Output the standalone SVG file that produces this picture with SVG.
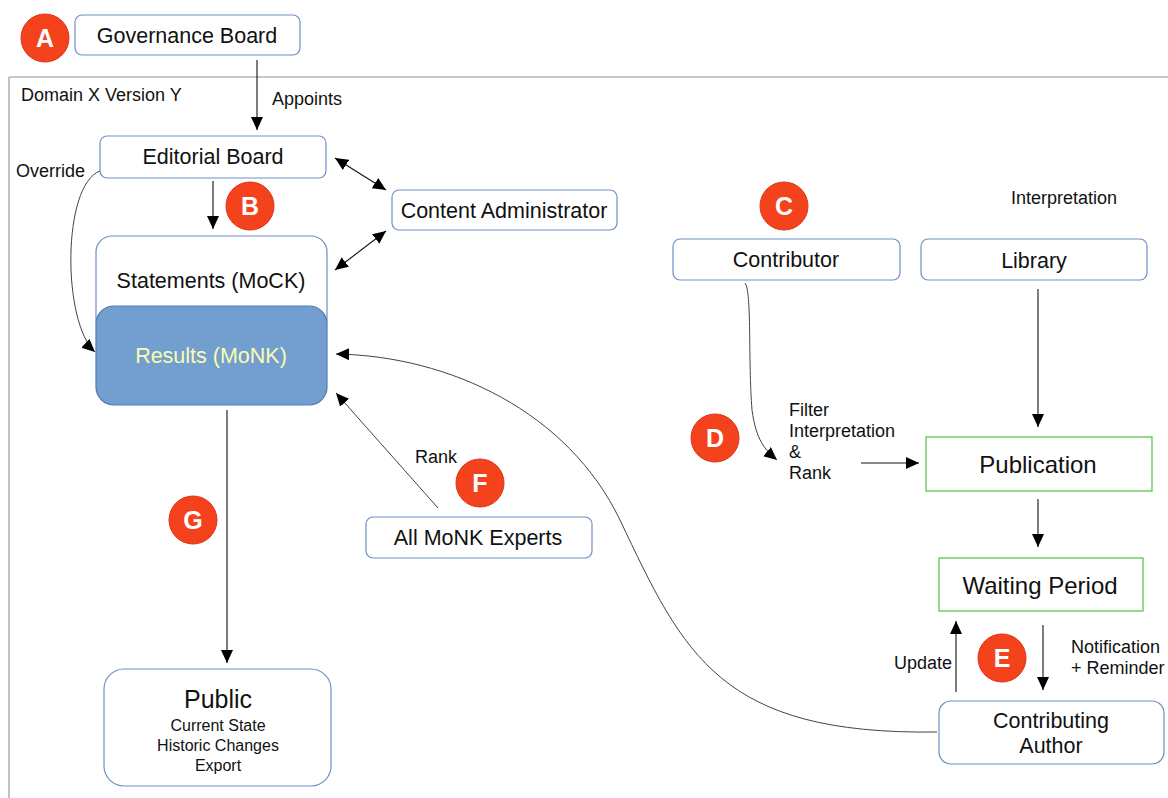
<svg xmlns="http://www.w3.org/2000/svg" width="1168" height="798" viewBox="0 0 1168 798">
<defs>
<style>
.node{fill:#fff;stroke:#6f8fc4;stroke-width:1.2}
.green{fill:#fff;stroke:#5cc452;stroke-width:1.3}
.t{font-family:"Liberation Sans",Arial,sans-serif;fill:#111;text-anchor:middle;font-size:21.5px}
.s{font-family:"Liberation Sans",Arial,sans-serif;fill:#111;font-size:18px}
.badge{fill:#f4431c;stroke:#e0301a;stroke-width:1}
.bl{font-family:"Liberation Sans",Arial,sans-serif;font-weight:bold;fill:#fff;font-size:25px;text-anchor:middle}
.c{fill:none;stroke:#111;stroke-width:1.1}
.cg{fill:none;stroke:#444;stroke-width:1}
</style>
<marker id="ah" markerUnits="userSpaceOnUse" markerWidth="14" markerHeight="12" refX="13" refY="6" orient="auto-start-reverse">
<path d="M0,0 L13,6 L0,12 Z" fill="#000"/>
</marker>
</defs>
<rect width="1168" height="798" fill="#fff"/>
<g id="frame">
<line x1="9" y1="77" x2="1168" y2="77" stroke="#c8c8c8" stroke-width="2"/>
<line x1="9" y1="77" x2="9" y2="798" stroke="#9a9a9a" stroke-width="1.2"/>
<text class="s" x="21" y="101">Domain X Version Y</text>
</g>
<g id="connectors">
<path class="c" d="M257,60 L257,130" marker-end="url(#ah)"/>
<text class="s" x="272" y="105">Appoints</text>
<path class="c" d="M213,181 L213,229" marker-end="url(#ah)"/>
<path class="c" d="M335,158 L386,190" marker-start="url(#ah)" marker-end="url(#ah)"/>
<path class="c" d="M335,270 L386,231" marker-start="url(#ah)" marker-end="url(#ah)"/>
<path class="cg" d="M100,171 C62,185 62,322 95,352" marker-end="url(#ah)"/>
<text class="s" x="16" y="177">Override</text>
<path class="cg" d="M937,732 C720,735 684,655 620,520 C568,412 450,356 336,354" marker-end="url(#ah)"/>
<path class="cg" d="M438,508 L336,393" marker-end="url(#ah)"/>
<text class="s" x="415" y="463">Rank</text>
<path class="c" d="M227,410 L227,663" marker-end="url(#ah)"/>
<path class="cg" d="M745,283 C752,292 748,360 752,410 C756,440 765,450 777,460" marker-end="url(#ah)"/>
<text class="s" x="789" y="416">Filter</text>
<text class="s" x="789" y="437">Interpretation</text>
<text class="s" x="789" y="458">&amp;</text>
<text class="s" x="789" y="479">Rank</text>
<path class="c" d="M861,463 L919,463" marker-end="url(#ah)"/>
<path class="c" d="M1038,289 L1038,427" marker-end="url(#ah)"/>
<path class="c" d="M1038,499 L1038,547" marker-end="url(#ah)"/>
<path class="c" d="M956,692 L956,621" marker-end="url(#ah)"/>
<text class="s" x="952" y="669" text-anchor="end">Update</text>
<path class="c" d="M1043,625 L1043,690" marker-end="url(#ah)"/>
<text class="s" x="1071" y="653">Notification</text>
<text class="s" x="1071" y="674">+ Reminder</text>
<text class="s" x="1064" y="204" text-anchor="middle">Interpretation</text>
</g>
<g id="governance"><rect class="node" x="75" y="15" width="225" height="40" rx="7"/><text class="t" x="187" y="43">Governance Board</text></g>
<g id="editorial"><rect class="node" x="100" y="136" width="226" height="42" rx="7"/><text class="t" x="213" y="164">Editorial Board</text></g>
<g id="content-admin"><rect class="node" x="392" y="190" width="225" height="40" rx="7"/><text class="t" x="504" y="218">Content Administrator</text></g>
<g id="statements"><rect class="node" x="96" y="236" width="231" height="100" rx="16"/><text class="t" x="211" y="288">Statements (MoCK)</text></g>
<g id="results"><rect x="96" y="306" width="231" height="99" rx="18" fill="#729fcf" stroke="#4f7cb8" stroke-width="1.2"/><text class="t" x="211" y="363" style="fill:#fbfbb0">Results (MoNK)</text></g>
<g id="contributor"><rect class="node" x="673" y="239" width="227" height="41" rx="7"/><text class="t" x="786" y="267">Contributor</text></g>
<g id="library"><rect class="node" x="921" y="239" width="226" height="41" rx="7"/><text class="t" x="1034" y="268">Library</text></g>
<g id="publication"><rect class="green" x="926" y="437" width="226" height="54"/><text class="t" x="1038" y="473" style="font-size:24px">Publication</text></g>
<g id="waiting"><rect class="green" x="939" y="558" width="204" height="53"/><text class="t" x="1040" y="594" style="font-size:24px">Waiting Period</text></g>
<g id="author"><rect class="node" x="939" y="701" width="225" height="63" rx="12"/><text class="t" x="1051" y="728">Contributing</text><text class="t" x="1051" y="753">Author</text></g>
<g id="experts"><rect class="node" x="366" y="517" width="226" height="41" rx="7"/><text class="t" x="478" y="545">All MoNK Experts</text></g>
<g id="public"><rect class="node" x="104" y="669" width="227" height="117" rx="20"/><text class="t" x="218" y="708" style="font-size:25px">Public</text><text class="t" x="218" y="731" style="font-size:16px">Current State</text><text class="t" x="218" y="751" style="font-size:16px">Historic Changes</text><text class="t" x="218" y="771" style="font-size:16px">Export</text></g>
<g id="badge-a"><circle class="badge" cx="45" cy="38" r="24"/><text class="bl" x="45" y="47">A</text></g>
<g id="badge-b"><circle class="badge" cx="250" cy="206" r="24"/><text class="bl" x="250" y="215">B</text></g>
<g id="badge-c"><circle class="badge" cx="784" cy="206" r="24"/><text class="bl" x="784" y="215">C</text></g>
<g id="badge-d"><circle class="badge" cx="715" cy="438" r="24"/><text class="bl" x="715" y="447">D</text></g>
<g id="badge-e"><circle class="badge" cx="1002" cy="658" r="24"/><text class="bl" x="1002" y="667">E</text></g>
<g id="badge-f"><circle class="badge" cx="480" cy="483" r="24"/><text class="bl" x="480" y="492">F</text></g>
<g id="badge-g"><circle class="badge" cx="193" cy="520" r="24"/><text class="bl" x="193" y="529">G</text></g>
</svg>
